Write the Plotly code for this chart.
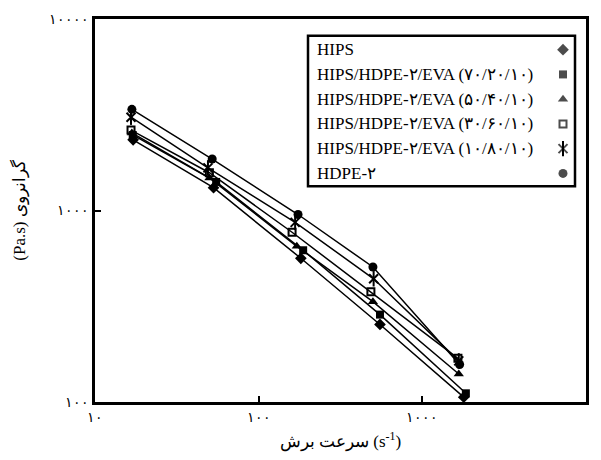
import plotly.graph_objects as go

# ---- data ----
series_names = [
    "HIPS",
    "HIPS/HDPE-۲/EVA (۷۰/۲۰/۱۰)",
    "HIPS/HDPE-۲/EVA (۵۰/۴۰/۱۰)",
    "HIPS/HDPE-۲/EVA (۳۰/۶۰/۱۰)",
    "HIPS/HDPE-۲/EVA (۱۰/۸۰/۱۰)",
    "HDPE-۲",
]
shear_hips = [17.1, 53, 181, 551, 1790]
visc_hips = [2340, 1315, 563, 254, 106]
shear_7020 = [17.0, 55, 187, 551, 1845]
visc_7020 = [2480, 1410, 620, 286, 111]
shear_5040 = [16.8, 50, 171, 499, 1670]
visc_5040 = [2540, 1480, 650, 334, 140]
shear_3060 = [16.6, 50, 160, 485, 1650]
visc_3060 = [2630, 1575, 770, 376, 169]
shear_1080 = [16.6, 49, 167, 504, 1670]
visc_1080 = [3070, 1670, 867, 440, 164]
shear_hdpe = [16.8, 52, 174, 499, 1690]
visc_hdpe = [3375, 1857, 953, 507, 157]

x_tick_vals = [10, 100, 1000, 10000]
x_tick_text = ["۱۰", "۱۰۰", "۱۰۰۰", "۱۰۰۰۰"]
y_tick_vals = [100, 1000, 10000]
y_tick_text = ["۱۰۰", "۱۰۰۰", "۱۰۰۰۰"]

xs = [shear_hips, shear_7020, shear_5040, shear_3060, shear_1080, shear_hdpe]
ys = [visc_hips, visc_7020, visc_5040, visc_3060, visc_1080, visc_hdpe]
symbols = ["diamond", "square", "triangle-up", "square-open", "x-thin-open", "circle"]
sizes = [9, 8, 9, 7, 9, 9]

FONT = "Liberation Serif, DejaVu Serif, serif"

fig = go.Figure()

# ---- custom legend box (drawn below traces; no data passes through it) ----
L, R, T, B = 95, 586, 15, 402
W, H = R - L, B - T
def px(xp):
    return (xp - L) / W
def py(yp):
    return (B - yp) / H

fig.add_shape(type="rect", xref="paper", yref="paper",
              x0=px(308), x1=px(575), y0=py(32), y1=py(184),
              line=dict(color="black", width=2.5), fillcolor="white", layer="below")

for xv, yv, sym, sz in zip(xs, ys, symbols, sizes):
    fig.add_trace(go.Scatter(
        x=xv, y=yv, mode="lines+markers",
        line=dict(color="black", width=1.5),
        marker=dict(symbol=sym, size=sz, color="black",
                    line=dict(color="black", width=2 if "open" in sym else 0)),
        showlegend=False, hoverinfo="skip"))
# vertical bar of the star marker for the 10/80/10 blend
fig.add_trace(go.Scatter(
    x=shear_1080, y=visc_1080, mode="markers",
    marker=dict(symbol="line-ns-open", size=11, color="black",
                line=dict(color="black", width=2)),
    showlegend=False, hoverinfo="skip"))

row_y = [46, 71, 96, 121, 146, 171]
for name, ry in zip(series_names, row_y):
    fig.add_annotation(xref="paper", yref="paper", x=px(315), y=py(ry),
                       text=name, showarrow=False, xanchor="left", yanchor="middle",
                       font=dict(family=FONT, size=17, color="black"))
leg_x = [0.5] * 6
fig.add_trace(go.Scatter(
    x=leg_x, y=[py(r) for r in row_y], xaxis="x2", yaxis="y2", mode="markers",
    marker=dict(symbol=symbols, size=sizes, color="black",
                line=dict(color="black", width=[0, 0, 0, 2, 2, 0])),
    showlegend=False, hoverinfo="skip"))
fig.add_trace(go.Scatter(
    x=[0.5], y=[py(row_y[4])], xaxis="x2", yaxis="y2", mode="markers",
    marker=dict(symbol="line-ns-open", size=11, color="black",
                line=dict(color="black", width=2)),
    showlegend=False, hoverinfo="skip"))

off = (563 - L) / W
fig.update_layout(
    width=601, height=460,
    margin=dict(l=L, r=601 - R, t=T, b=460 - B),
    paper_bgcolor="white", plot_bgcolor="white",
    font=dict(family=FONT, size=13, color="black"),
    xaxis=dict(type="log", range=[1, 4], tickvals=x_tick_vals, ticktext=x_tick_text,
               ticks="inside", ticklen=6, tickwidth=2, tickcolor="black",
               showline=True, linecolor="black", linewidth=2.5, mirror=True,
               showgrid=False, zeroline=False,
               tickfont=dict(family=FONT, size=14),
               title=dict(text="سرعت برش (s<sup>-1</sup>)", font=dict(family=FONT, size=17), standoff=12)),
    yaxis=dict(type="log", range=[2, 4], tickvals=y_tick_vals, ticktext=y_tick_text,
               ticks="inside", ticklen=6, tickwidth=2, tickcolor="black",
               showline=True, linecolor="black", linewidth=2.5, mirror=True,
               showgrid=False, zeroline=False,
               tickfont=dict(family=FONT, size=14),
               title=dict(text="(Pa.s) گرانروی", font=dict(family=FONT, size=17), standoff=20)),
    xaxis2=dict(overlaying="x", anchor="y2", domain=[0, 1],
                range=[0.5 - off, 0.5 - off + 1], visible=False),
    yaxis2=dict(overlaying="y", anchor="x2", range=[0, 1], visible=False),
)

fig.write_html("out.html")
